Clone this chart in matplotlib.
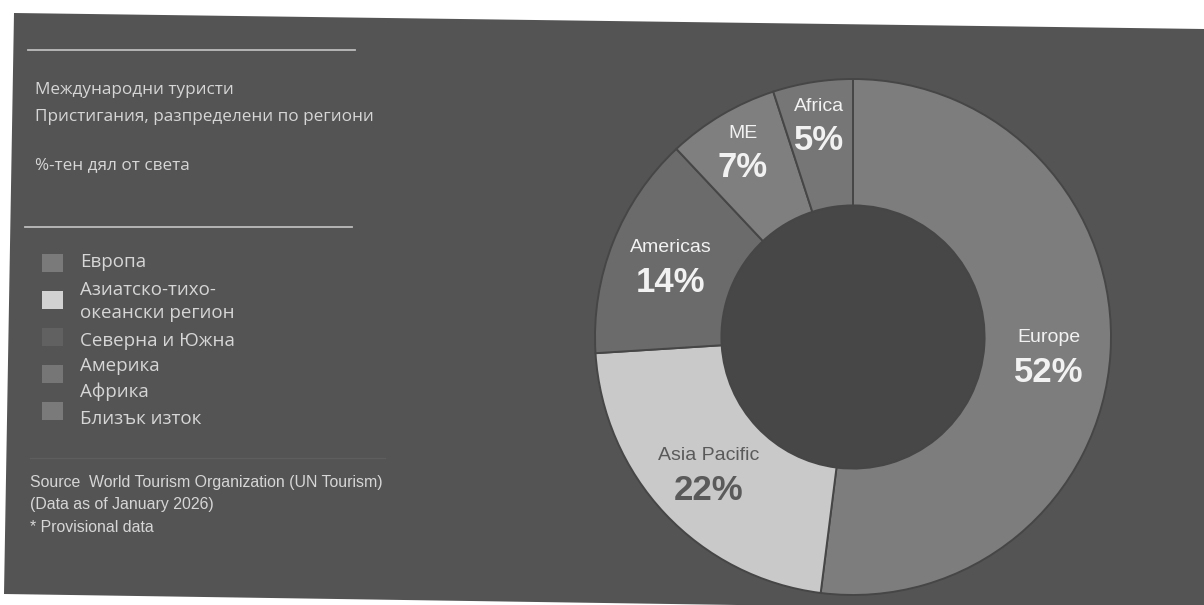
import numpy as np
import matplotlib
matplotlib.use("Agg")
import matplotlib.pyplot as plt
from matplotlib.patches import Polygon, Rectangle, Circle
from matplotlib.lines import Line2D

# ---------------- data ----------------
regions = ["Europe", "Asia Pacific", "Americas", "ME", "Africa"]
shares = [52, 22, 14, 7, 5]
slice_colors = ["#7d7d7d", "#c9c9c9", "#6b6b6b", "#7f7f7f", "#767676"]
label_colors = ["#f2f2f2", "#5a5a5a", "#f2f2f2", "#f2f2f2", "#f2f2f2"]

title_lines = ["Международни туристи", "Пристигания, разпределени по региони"]
subtitle = "%-тен дял от света"
legend_lines = ["Европа", "Азиатско-тихо-", "океански регион", "Северна и Южна",
                "Америка", "Африка", "Близък изток"]
legend_colors = ["#7a7a7a", "#d2d2d2", "#616161", "#767676", "#7a7a7a"]
source_lines = ["Source  World Tourism Organization (UN Tourism)",
                "(Data as of January 2026)",
                "* Provisional data"]

W, H = 1204, 605
fig = plt.figure(figsize=(W / 100, H / 100), dpi=100, facecolor="white")

def fx(x):
    return x / W

def fy(y):
    return 1 - y / H

# dark panel (slightly tilted scan)
panel = Polygon([(fx(14), fy(13)), (fx(1204), fy(29)), (fx(1204), fy(612)), (fx(4), fy(594))],
                closed=True, transform=fig.transFigure, facecolor="#545454",
                edgecolor="none", zorder=-5)
fig.patches.append(panel)

# rules
for (x0, x1, y) in [(28, 355, 50), (25, 352, 227)]:
    fig.add_artist(Line2D([fx(x0), fx(x1)], [fy(y), fy(y)], color="#bdbdbd", lw=1.3,
                          transform=fig.transFigure))
fig.add_artist(Line2D([fx(30), fx(385)], [fy(458), fy(458)], color="#5e5e5e", lw=1.0,
                      transform=fig.transFigure))

cyr = "Open Sans"
lat = "Liberation Sans"
txt_col = "#d6d6d6"

fig.text(fx(35), fy(90), title_lines[0], family=cyr, fontsize=12.3, color=txt_col, va="center")
fig.text(fx(35), fy(117), title_lines[1], family=cyr, fontsize=12.3, color=txt_col, va="center")
fig.text(fx(35), fy(165), subtitle, family=cyr, fontsize=12.3, color=txt_col, va="center")

# legend
leg_y = [262, 290, 313, 341, 366, 392, 419]
for t, y in zip(legend_lines, leg_y):
    fig.text(fx(80), fy(y), t, family=cyr, fontsize=13.5, color=txt_col, va="center")
for i, c in enumerate(legend_colors):
    yc = 263 + 37 * i
    fig.patches.append(Rectangle((fx(42), fy(yc + 9)), 21 / W, 18 / H, transform=fig.transFigure,
                                 facecolor=c, edgecolor="none", zorder=1))

# source
for t, y in zip(source_lines, [482, 505, 528]):
    fig.text(fx(30), fy(y), t, family=lat, fontsize=11.4, color=txt_col, va="center")

# donut
cx, cy, R = 853, 337, 258
ax = fig.add_axes([fx(cx - R), (H - cy - R) / H, 2 * R / W, 2 * R / H])
ax.set_facecolor("none")
wedges, _ = ax.pie(shares, colors=slice_colors, startangle=90, counterclock=False,
                   radius=1.0, wedgeprops=dict(width=0.49, edgecolor="#464646", linewidth=1.4))
ax.add_patch(Circle((0, 0), 0.51, facecolor="#474747", edgecolor="none", zorder=0))
ax.set_xlim(-1, 1)
ax.set_ylim(-1, 1)
ax.set_aspect("equal")
ax.axis("off")

lab_r = [0.76, 0.77, 0.76, 0.84, 0.83]
lab_dy = [-6, 0, 0, 0, 2]
for w, name, val, col, r, dy in zip(wedges, regions, shares, label_colors, lab_r, lab_dy):
    ang = np.deg2rad((w.theta1 + w.theta2) / 2)
    x, y = r * np.cos(ang), r * np.sin(ang)
    ax.annotate(name, (x, y), xytext=(0, 12.5 + dy * 0.72), textcoords="offset points",
                ha="center", va="center", family=lat, fontsize=14, color=col)
    ax.annotate(f"{val}%", (x, y), xytext=(0, -12.5 + dy * 0.72), textcoords="offset points",
                ha="center", va="center", family=lat, fontsize=25, fontweight="bold", color=col)

fig.savefig("out.png", dpi=100, facecolor="white")
